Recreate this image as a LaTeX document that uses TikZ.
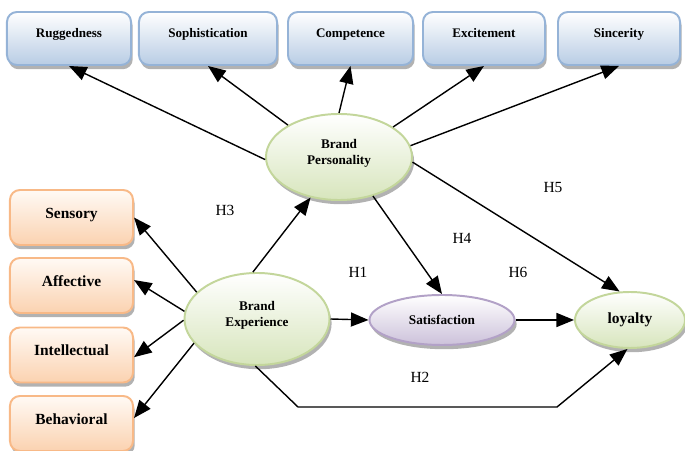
\documentclass[tikz,border=0pt]{standalone}
\usepackage{fontspec}
\setmainfont{Liberation Serif}
\definecolor{dimblue}{RGB}{149, 179, 215}
\definecolor{dimbluefill}{RGB}{184, 204, 228}
\definecolor{exporange}{RGB}{248, 185, 135}
\definecolor{exporangefill}{RGB}{251, 210, 176}
\definecolor{ovalgreen}{RGB}{195, 214, 155}
\definecolor{ovalgreenfill}{RGB}{215, 229, 188}
\definecolor{satviolet}{RGB}{178, 161, 199}
\definecolor{satvioletfill}{RGB}{204, 193, 218}
\usetikzlibrary{shapes, arrows.meta, positioning, calc, shadows}

\begin{document}
\begin{tikzpicture}[x=0.025cm, y=-0.025cm,
  topbox/.style={draw=dimblue, line width=1.4pt, rounded corners=7pt, top color=white, bottom color=dimbluefill,
    minimum height=1.325cm, text height=7pt, text depth=9pt, font=\fontsize{9.3}{10}\selectfont\bfseries,
    drop shadow={shadow xshift=1.2pt, shadow yshift=-3pt, fill=gray!75, opacity=0.8}},
  expbox/.style={draw=exporange, line width=1.4pt, rounded corners=7pt, top color=orange!4, bottom color=exporangefill,
    minimum width=3.075cm, minimum height=1.375cm, text height=8pt, text depth=7.1pt, font=\fontsize{11}{12}\selectfont\bfseries,
    drop shadow={shadow xshift=1.2pt, shadow yshift=-3pt, fill=gray!75, opacity=0.8}},
  oval/.style={ellipse, draw=ovalgreen, line width=1.4pt, top color=white, bottom color=ovalgreenfill, inner sep=0pt,
    align=center, font=\fontsize{9.4}{11.4}\selectfont\bfseries,
    drop shadow={shadow xshift=1.5pt, shadow yshift=-3pt, fill=gray!75, opacity=0.8}},
  hyp/.style={font=\fontsize{11}{12}\selectfont},
  arr/.style={-{Triangle[length=12.5pt, width=10pt]}, line width=1pt}]
  \useasboundingbox (0,0) rectangle (685,451);

  % Brand personality dimensions
  \node[topbox, minimum width=3.1cm] (rug) at (69,38.5) {Ruggedness};
  \node[topbox, minimum width=3.45cm] (soph) at (208,38.5) {Sophistication};
  \node[topbox, minimum width=3.125cm] (comp) at (350.5,38.5) {Competence};
  \node[topbox, minimum width=3.05cm] (exc) at (484,38.5) {Excitement};
  \node[topbox, minimum width=3.05cm] (sinc) at (619,38.5) {Sincerity};

  % Brand experience dimensions
  \node[expbox] (sens) at (71.5,217.5) {Sensory};
  \node[expbox] (aff) at (71.5,285.5) {Affective};
  \node[expbox] (intel) at (71.5,355) {Intellectual};
  \node[expbox] (behav) at (71.5,423.5) {Behavioral};

  % Constructs
  \node[oval, minimum width=3.65cm, minimum height=2.15cm, text depth=7pt] (bp) at (339,157) {Brand\\Personality};
  \node[oval, minimum width=3.625cm, minimum height=2.3cm, text depth=7pt] (be) at (257,319) {Brand\\Experience};
  \node[oval, draw=satviolet, bottom color=satvioletfill, minimum width=3.625cm, minimum height=1.25cm] (sat) at (442,320) {Satisfaction};
  \node[oval, minimum width=2.75cm, minimum height=1.4cm, font=\fontsize{11}{12}\selectfont\bfseries] (loy) at (630,320) {loyalty};

  % Hypotheses
  \node[hyp] (h1) at (358,272) {H1};
  \node[hyp] (h2) at (420,377) {H2};
  \node[hyp] (h3) at (225,210) {H3};
  \node[hyp] (h4) at (462,238) {H4};
  \node[hyp] (h5) at (553,188) {H5};
  \node[hyp] (h6) at (518,272) {H6};

  \coordinate (h2a) at (298,407);
  \coordinate (h2b) at (557,407);

  % Arrows
  \draw[arr] (bp.182) -- (rug.south);
  \draw[arr] (bp.148) -- (soph.south);
  \draw[arr] (bp.north) -- (comp.south);
  \draw[arr] (bp.29) -- (exc.south);
  \draw[arr] (bp.9) -- (sinc.south);
  \draw[arr] (bp.-4) -- (loy.110);
  \draw[arr] (bp.-49) -- (sat.north);
  \draw[arr] (be.95) -- (bp.-125);
  \draw[arr] (be.156) -- (sens.east);
  \draw[arr] (be.174) -- (aff.5);
  \draw[arr] (be.181) -- (intel.-2);
  \draw[arr] (be.201) -- (behav.5);
  \draw[arr] (be.east) -- (sat.west);
  \draw[arr] (sat.east) -- (loy.west);
  \draw[arr] (be.-92) -- (h2a) -- (h2b) -- (loy.-95);
\end{tikzpicture}
\end{document}
